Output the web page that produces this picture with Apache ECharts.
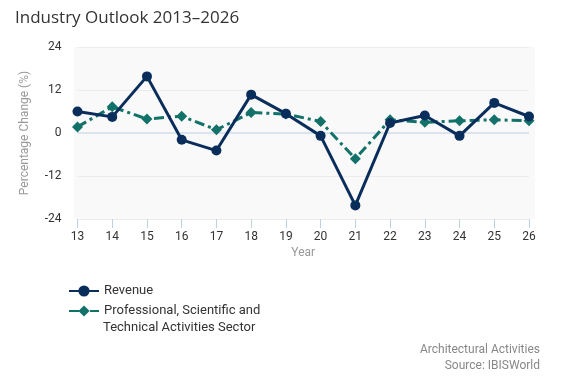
<!DOCTYPE html>
<html><head><meta charset="utf-8">
<script src="https://cdn.jsdelivr.net/npm/echarts@6/dist/echarts.min.js"></script>
<style>html,body{margin:0;padding:0;background:#fff}#c{width:562px;height:385px}</style>
</head><body><div id="c"></div>
<script>
const years = ['13','14','15','16','17','18','19','20','21','22','23','24','25','26'];
const revenue = [6.0, 4.5, 15.8, -1.9, -4.9, 10.7, 5.4, -0.8, -20.2, 2.8, 4.9, -0.8, 8.4, 4.6];
const sector = [1.7, 7.3, 3.9, 4.7, 0.9, 5.7, 5.3, 3.2, -7.2, 3.7, 3.0, 3.4, 3.7, 3.4];
const yTicks = [-24, -12, 0, 12, 24];
const sectorName = 'Professional, Scientific and Technical Activities Sector';
const chart = echarts.init(document.getElementById('c'), null, {renderer:'canvas'});
chart.setOption({
  animation:false,
  textStyle:{fontFamily:'Roboto'},
  title:{text:'Industry Outlook 2013–2026', left:10, top:5, textStyle:{fontFamily:'Open Sans', fontWeight:'normal', fontSize:17, color:'#333'}},
  graphic:[
    {type:'rect', z:-10, shape:{x:74, y:47, width:461, height:172}, style:{fill:'#f9f9f9'}},
    {type:'text', left:103, top:321, style:{text:'Technical Activities Sector', font:'13px Roboto', fill:'#333'}},
    {type:'text', right:22, top:344, style:{text:'Architectural Activities', font:'12px Roboto', fill:'#888', textAlign:'right'}},
    {type:'text', right:22, top:360, style:{text:'Source: IBISWorld', font:'12px Roboto', fill:'#888', textAlign:'right'}}
  ],
  grid:{left:77.5, right:33, top:47, bottom:166},
  legend:{orient:'vertical', left:63, top:279, itemWidth:30, itemHeight:14, itemGap:6,
    textStyle:{fontSize:13, color:'#333', lineHeight:14},
    formatter:function(n){return n===sectorName?'Professional, Scientific and':n;}},
  xAxis:{type:'category', data:years, boundaryGap:false,
    name:'Year', nameLocation:'middle', nameGap:28, nameTextStyle:{color:'#999', fontSize:12},
    axisLine:{show:false, onZero:false}, axisTick:{show:true, length:9, lineStyle:{color:'#bcd0e6'}},
    axisLabel:{color:'#333', fontSize:12, margin:12}},
  yAxis:{type:'value', min:-24, max:24, interval:12,
    name:'Percentage Change (%)', nameLocation:'middle', nameGap:47, nameTextStyle:{color:'#999', fontSize:12},
    axisLine:{show:false}, axisTick:{show:false},
    axisLabel:{color:'#333', fontSize:12, margin:16},
    splitLine:{lineStyle:{color:'#ececec', width:1}}},
  series:[
    {name:'Revenue', type:'line', data:revenue, symbol:'circle', symbolSize:10,
     lineStyle:{color:'#0a2e5c', width:3}, itemStyle:{color:'#0a2e5c'}, z:3,
     markLine:{silent:true, symbol:'none', label:{show:false}, lineStyle:{color:'#dbe3ee', width:2, type:'solid'}, data:[{yAxis:0}], z:1}},
    {name:sectorName, type:'line', data:sector, symbol:'diamond', symbolSize:11,
     lineStyle:{color:'#127168', width:3, type:[10,4,3,4]}, itemStyle:{color:'#127168'}, z:2}
  ]
});
</script></body></html>
